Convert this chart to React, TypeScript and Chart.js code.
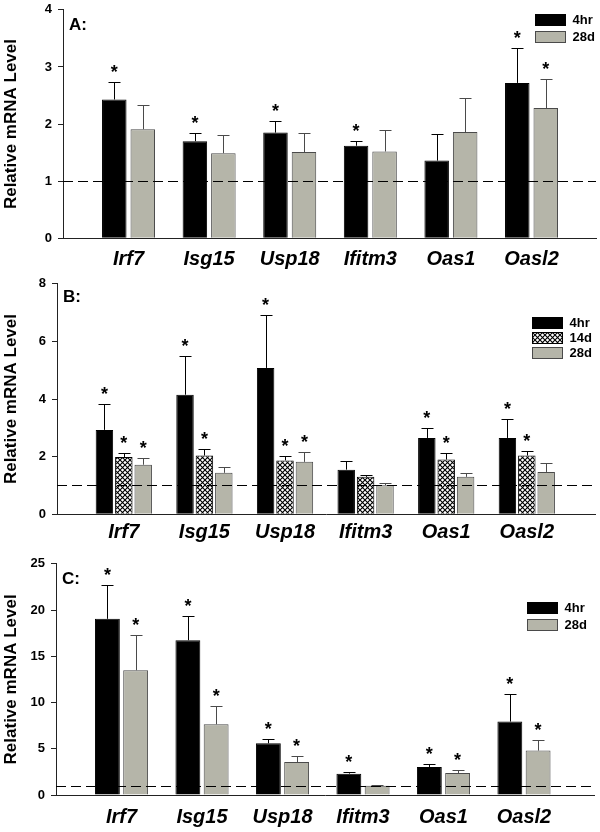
import React, { useEffect, useRef } from 'react';
import { Chart, registerables } from 'chart.js';

Chart.register(...registerables);

const FONT = "'Liberation Sans', Arial, Helvetica, sans-serif";

// ---------- data ----------
const genes = ['Irf7', 'Isg15', 'Usp18', 'Ifitm3', 'Oas1', 'Oasl2'];

// Panel A
const aYTicks = { max: 4, step: 1 };
const a4hr = [2.43, 1.7, 1.85, 1.62, 1.36, 2.72];
const a4hrErr = [0.3, 0.14, 0.21, 0.09, 0.46, 0.62];
const a4hrSig = [true, true, true, true, false, true];
const a28d = [1.91, 1.49, 1.51, 1.52, 1.86, 2.28];
const a28dErr = [0.43, 0.32, 0.34, 0.38, 0.59, 0.51];
const a28dSig = [false, false, false, false, false, true];

// Panel B
const bYTicks = { max: 8, step: 2 };
const b4hr = [2.93, 4.15, 5.08, 1.55, 2.65, 2.65];
const b4hrErr = [0.91, 1.34, 1.85, 0.3, 0.34, 0.67];
const b4hrSig = [true, true, true, false, true, true];
const b14d = [1.99, 2.04, 1.87, 1.3, 1.9, 2.04];
const b14dErr = [0.13, 0.21, 0.15, 0.08, 0.22, 0.14];
const b14dSig = [true, true, true, false, true, true];
const b28d = [1.72, 1.44, 1.82, 1.01, 1.3, 1.47];
const b28dErr = [0.23, 0.2, 0.33, 0.08, 0.13, 0.31];
const b28dSig = [true, false, true, false, false, false];

// Panel C
const cYTicks = { max: 25, step: 5 };
const c4hr = [19.05, 16.74, 5.59, 2.31, 3.03, 7.94];
const c4hrErr = [3.68, 2.63, 0.43, 0.22, 0.29, 2.99];
const c4hrSig = [true, true, true, true, true, true];
const c28d = [13.49, 7.65, 3.57, 1.01, 2.38, 4.8];
const c28dErr = [3.79, 2.02, 0.65, 0.07, 0.36, 1.19];
const c28dSig = [true, true, true, false, true, true];

const baselineValue = 1;
const yTitle = 'Relative mRNA Level';

// ---------- styles ----------
const BLACK = { fill: '#000000', border: '#000000', err: '#000000', hatch: false };
const HATCH = { fill: '#ffffff', border: '#000000', err: '#000000', hatch: true };
const GRAY = { fill: '#b5b5a9', border: '#4a4a4a', err: '#4a4a4a', hatch: false };

type Series = {
  label: string;
  values: number[];
  errors: number[];
  sig: boolean[];
  style: { fill: string; border: string; err: string; hatch: boolean };
};

type Panel = {
  letter: string;
  top: number;
  height: number;
  padTop: number;
  padRight: number;
  yAxisWidth: number;
  xAxisHeight: number;
  xPad: number;
  xMin: number;
  xMax: number;
  yMax: number;
  yStep: number;
  catPct: number;
  barPct: number;
  legendFromRight: number;
  legendTop: number;
  legendStep: number;
  letterDy: number;
  series: Series[];
};

const panels: Panel[] = [
  {
    letter: 'A:',
    top: -4,
    height: 280,
    padTop: 10.3,
    padRight: 4,
    yAxisWidth: 63,
    xAxisHeight: 37.7,
    xPad: 9,
    xMin: -0.813,
    xMax: 5.8,
    yMax: aYTicks.max,
    yStep: aYTicks.step,
    catPct: 0.707,
    barPct: 0.86,
    legendFromRight: 61,
    legendTop: 4,
    legendStep: 17,
    letterDy: 20.5,
    series: [
      { label: '4hr', values: a4hr, errors: a4hrErr, sig: a4hrSig, style: BLACK },
      { label: '28d', values: a28d, errors: a28dErr, sig: a28dSig, style: GRAY },
    ],
  },
  {
    letter: 'B:',
    top: 270,
    height: 280,
    padTop: 11.7,
    padRight: 5,
    yAxisWidth: 57,
    xAxisHeight: 35.7,
    xPad: 6,
    xMin: -0.829,
    xMax: 5.846,
    yMax: bYTicks.max,
    yStep: bYTicks.step,
    catPct: 0.722,
    barPct: 0.9,
    legendFromRight: 63,
    legendTop: 33,
    legendStep: 15,
    letterDy: 18.5,
    series: [
      { label: '4hr', values: b4hr, errors: b4hrErr, sig: b4hrSig, style: BLACK },
      { label: '14d', values: b14d, errors: b14dErr, sig: b14dSig, style: HATCH },
      { label: '28d', values: b28d, errors: b28dErr, sig: b28dSig, style: GRAY },
    ],
  },
  {
    letter: 'C:',
    top: 550,
    height: 282,
    padTop: 11.7,
    padRight: 6,
    yAxisWidth: 56,
    xAxisHeight: 37,
    xPad: 10,
    xMin: -0.814,
    xMax: 5.87,
    yMax: cYTicks.max,
    yStep: cYTicks.step,
    catPct: 0.702,
    barPct: 0.88,
    legendFromRight: 67,
    legendTop: 38,
    legendStep: 17,
    letterDy: 20,
    series: [
      { label: '4hr', values: c4hr, errors: c4hrErr, sig: c4hrSig, style: BLACK },
      { label: '28d', values: c28d, errors: c28dErr, sig: c28dSig, style: GRAY },
    ],
  },
];

function makeHatch(): CanvasPattern | string {
  const size = 5;
  const c = document.createElement('canvas');
  c.width = size;
  c.height = size;
  const g = c.getContext('2d');
  if (!g) return '#888';
  g.fillStyle = '#ffffff';
  g.fillRect(0, 0, size, size);
  g.strokeStyle = '#000000';
  g.lineWidth = 1.1;
  g.beginPath();
  g.moveTo(-1, -1);
  g.lineTo(size + 1, size + 1);
  g.moveTo(-1, size + 1);
  g.lineTo(size + 1, -1);
  g.stroke();
  const p = g.createPattern(c, 'repeat');
  return p || '#888';
}

function PanelChart({ panel }: { panel: Panel }) {
  const ref = useRef<HTMLCanvasElement>(null);

  useEffect(() => {
    const canvas = ref.current;
    if (!canvas) return;
    const hatch = makeHatch();
    const fillOf = (s: Series) => (s.style.hatch ? hatch : s.style.fill);

    const extras = {
      id: 'extras',
      afterDatasetsDraw(chart: any) {
        const ctx = chart.ctx as CanvasRenderingContext2D;
        const area = chart.chartArea;
        const ys = chart.scales.y;

        // error bars + significance asterisks
        panel.series.forEach((s, di) => {
          const meta = chart.getDatasetMeta(di);
          meta.data.forEach((bar: any, j: number) => {
            const x = Math.round(bar.x) + 0.5;
            const yTop = Math.round(ys.getPixelForValue(s.values[j] + s.errors[j])) + 0.5;
            const yBar = ys.getPixelForValue(s.values[j]);
            ctx.save();
            ctx.strokeStyle = s.style.err;
            ctx.lineWidth = 1;
            ctx.beginPath();
            ctx.moveTo(x, yBar);
            ctx.lineTo(x, yTop);
            ctx.moveTo(x - 6, yTop);
            ctx.lineTo(x + 6, yTop);
            ctx.stroke();
            if (s.sig[j]) {
              ctx.fillStyle = '#000';
              ctx.font = `bold 18px ${FONT}`;
              ctx.textAlign = 'center';
              ctx.textBaseline = 'alphabetic';
              ctx.fillText('*', bar.x, yTop - 5);
            }
            ctx.restore();
          });
        });

        // dashed reference line
        const yb = Math.round(ys.getPixelForValue(baselineValue)) + 0.5;
        ctx.save();
        ctx.strokeStyle = '#000';
        ctx.lineWidth = 1;
        ctx.setLineDash([10, 5]);
        ctx.beginPath();
        ctx.moveTo(area.left, yb);
        ctx.lineTo(area.right, yb);
        ctx.stroke();
        ctx.restore();

        // panel letter
        ctx.save();
        ctx.fillStyle = '#000';
        ctx.font = `bold 17px ${FONT}`;
        ctx.textAlign = 'left';
        ctx.textBaseline = 'alphabetic';
        ctx.fillText(panel.letter, area.left + 6, area.top + panel.letterDy);
        ctx.restore();

        // legend
        ctx.save();
        const lx = Math.round(area.right - panel.legendFromRight) + 0.5;
        panel.series.forEach((s, i) => {
          const ly = Math.round(area.top + panel.legendTop + i * panel.legendStep) + 0.5;
          ctx.fillStyle = fillOf(s) as any;
          ctx.fillRect(lx, ly, 30, 11);
          ctx.strokeStyle = s.style.border;
          ctx.lineWidth = 1;
          ctx.strokeRect(lx, ly, 30, 11);
          ctx.fillStyle = '#000';
          ctx.font = `bold 13px ${FONT}`;
          ctx.textAlign = 'left';
          ctx.textBaseline = 'middle';
          ctx.fillText(s.label, lx + 37, ly + 6);
        });
        ctx.restore();
      },
    };

    const chart = new Chart(canvas, {
      type: 'bar',
      data: {
        datasets: panel.series.map((s) => ({
          label: s.label,
          data: s.values.map((v, i) => ({ x: i, y: v })),
          backgroundColor: fillOf(s) as any,
          borderColor: s.style.border,
          borderWidth: 1,
          categoryPercentage: panel.catPct,
          barPercentage: panel.barPct,
        })),
      },
      options: {
        animation: false,
        responsive: false,
        events: [],
        layout: { padding: { top: panel.padTop, right: panel.padRight, left: 0, bottom: 0 } },
        plugins: { legend: { display: false }, tooltip: { enabled: false } },
        scales: {
          x: {
            type: 'linear',
            offset: false,
            min: panel.xMin,
            max: panel.xMax,
            grid: { display: false, drawTicks: false, offset: false },
            border: { display: true, color: '#222', width: 1 },
            afterBuildTicks: (axis: any) => {
              axis.ticks = genes.map((_, i) => ({ value: i }));
            },
            afterFit: (axis: any) => {
              axis.height = panel.xAxisHeight;
            },
            ticks: {
              autoSkip: false,
              maxRotation: 0,
              padding: panel.xPad,
              color: '#000',
              font: { family: FONT, size: 20, weight: 'bold', style: 'italic' },
              callback: (v: any) => genes[Number(v)] ?? '',
            },
          },
          y: {
            min: 0,
            max: panel.yMax,
            grid: { drawOnChartArea: false, drawTicks: true, tickLength: 5, color: '#222' },
            border: { display: true, color: '#222', width: 1 },
            afterFit: (axis: any) => {
              axis.width = panel.yAxisWidth;
            },
            ticks: {
              stepSize: panel.yStep,
              padding: 6,
              color: '#000',
              font: { family: FONT, size: 13, weight: 'bold' },
            },
            title: {
              display: true,
              text: yTitle,
              color: '#000',
              font: { family: FONT, size: 17, weight: 'bold' },
              padding: { top: 1, bottom: 0 },
            },
          },
        },
      } as any,
      plugins: [extras],
    });

    return () => chart.destroy();
  }, [panel]);

  return (
    <canvas
      ref={ref}
      width={600}
      height={panel.height}
      style={{ position: 'absolute', left: 0, top: panel.top, width: 600, height: panel.height }}
    />
  );
}

export default function App() {
  return (
    <div
      style={{
        position: 'fixed',
        left: 0,
        top: 0,
        width: 600,
        height: 832,
        background: '#fff',
        overflow: 'hidden',
      }}
    >
      {panels.map((p) => (
        <PanelChart key={p.letter} panel={p} />
      ))}
    </div>
  );
}
